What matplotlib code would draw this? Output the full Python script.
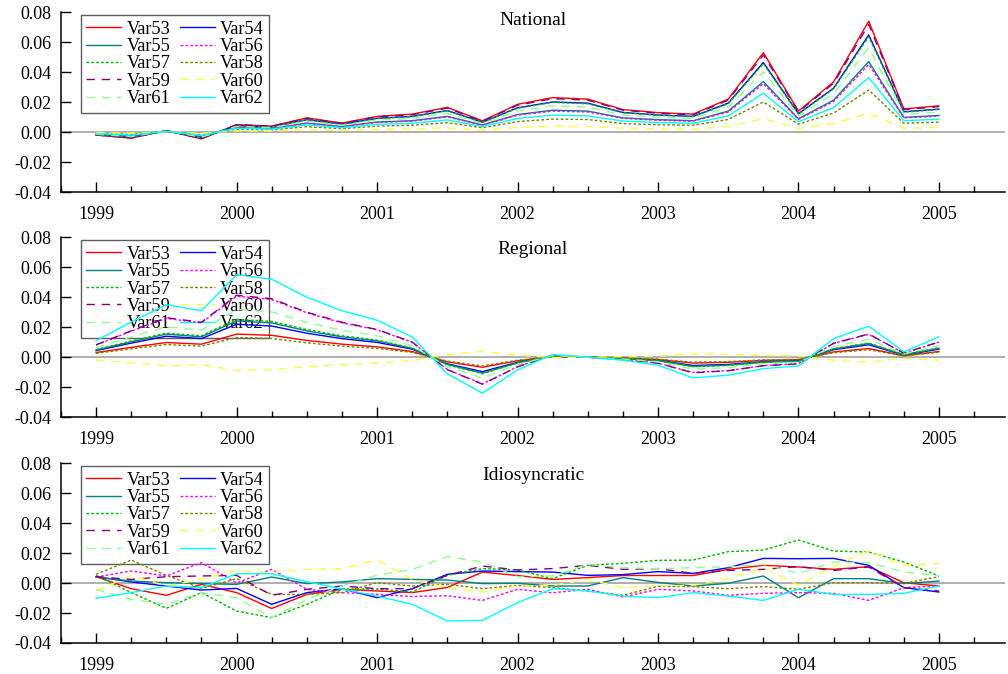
import numpy as np
import matplotlib
matplotlib.use('Agg')
import matplotlib.pyplot as plt
from matplotlib.ticker import MultipleLocator, FormatStrFormatter

plt.rcParams['font.family'] = ['Liberation Serif', 'DejaVu Serif']
plt.rcParams['axes.unicode_minus'] = False

# quarterly dates 1999Q1 .. 2005Q1
quarters = np.arange(1999, 2005.01, 0.25)
names = ['Var53', 'Var54', 'Var55', 'Var56', 'Var57', 'Var58', 'Var59', 'Var60', 'Var61', 'Var62']

# ---- National
nat53 = [-0.002, -0.004, 0.001, -0.0045, 0.005, 0.004, 0.0095, 0.006, 0.0105, 0.012, 0.0165, 0.0075, 0.0185,
         0.023, 0.022, 0.015, 0.013, 0.012, 0.022, 0.053, 0.014, 0.0335, 0.074, 0.0155, 0.0175]
nat54 = [-0.0018, -0.0035, 0.0009, -0.0039, 0.0044, 0.0035, 0.0083, 0.0053, 0.0092, 0.0105, 0.0144, 0.0066, 0.0162,
         0.0201, 0.0193, 0.0131, 0.0114, 0.0105, 0.0193, 0.0464, 0.0123, 0.0293, 0.0648, 0.0136, 0.0153]
nat55 = [-0.0013, -0.0025, 0.0006, -0.0029, 0.0032, 0.0025, 0.006, 0.0038, 0.0067, 0.0076, 0.0105, 0.0048, 0.0117,
         0.0146, 0.014, 0.0095, 0.0083, 0.0076, 0.014, 0.0337, 0.0089, 0.0213, 0.047, 0.0098, 0.0111]
nat56 = [-0.0012, -0.0024, 0.0006, -0.0027, 0.0031, 0.0024, 0.0058, 0.0037, 0.0064, 0.0073, 0.0101, 0.0046, 0.0113,
         0.014, 0.0134, 0.0092, 0.0079, 0.0073, 0.0134, 0.0323, 0.0085, 0.0204, 0.0451, 0.0095, 0.0107]
nat57 = [-0.0017, -0.0034, 0.0009, -0.0039, 0.0043, 0.0034, 0.0082, 0.0052, 0.009, 0.0103, 0.0142, 0.0065, 0.0159,
         0.0198, 0.0189, 0.0129, 0.0112, 0.0103, 0.0189, 0.0456, 0.012, 0.0288, 0.0636, 0.0133, 0.0151]
nat58 = [-0.0008, -0.0015, 0.0004, -0.0017, 0.0019, 0.0015, 0.0036, 0.0023, 0.004, 0.0046, 0.0063, 0.0029, 0.007,
         0.0087, 0.0084, 0.0057, 0.0049, 0.0046, 0.0084, 0.0201, 0.0053, 0.0127, 0.0281, 0.0059, 0.0067]
nat59 = [-0.0019, -0.0039, 0.001, -0.0044, 0.0049, 0.0039, 0.0092, 0.0058, 0.0102, 0.0116, 0.016, 0.0073, 0.0179,
         0.0223, 0.0213, 0.0146, 0.0126, 0.0116, 0.0213, 0.0514, 0.0136, 0.0325, 0.0718, 0.015, 0.017]
nat60 = [-0.0003, -0.0007, 0.0002, -0.0008, 0.0009, 0.0007, 0.0016, 0.001, 0.0018, 0.002, 0.0028, 0.0013, 0.0031,
         0.0039, 0.0037, 0.0026, 0.0022, 0.002, 0.0037, 0.009, 0.0024, 0.0057, 0.0126, 0.0026, 0.003]
nat61 = [-0.0015, -0.003, 0.0008, -0.0034, 0.0038, 0.003, 0.0072, 0.0046, 0.008, 0.0091, 0.0125, 0.0057, 0.0141,
         0.0175, 0.0167, 0.0114, 0.0099, 0.0091, 0.0167, 0.0403, 0.0106, 0.0255, 0.0562, 0.0118, 0.0133]
nat62 = [-0.001, -0.002, 0.0005, -0.0022, 0.0025, 0.002, 0.0047, 0.0029, 0.0051, 0.0059, 0.0081, 0.0037, 0.0091,
         0.0113, 0.0108, 0.0074, 0.0064, 0.0059, 0.0108, 0.026, 0.0069, 0.0164, 0.0363, 0.0076, 0.0086]

# ---- Regional
reg53 = [0.0031, 0.0066, 0.0098, 0.0087, 0.0154, 0.0146, 0.0112, 0.0087, 0.0069, 0.0038, -0.0031, -0.0067, -0.0024,
         0.0005, 0.0, -0.0006, -0.0015, -0.0039, -0.0034, -0.0021, -0.0016, 0.0035, 0.0058, 0.001, 0.0038]
reg54 = [0.0044, 0.0094, 0.014, 0.0124, 0.022, 0.0208, 0.016, 0.0124, 0.0099, 0.0054, -0.0044, -0.0096, -0.0034,
         0.0007, 0.0, -0.0008, -0.0021, -0.0055, -0.0048, -0.003, -0.0023, 0.005, 0.0083, 0.0014, 0.0054]
reg55 = [0.0048, 0.0103, 0.0154, 0.0136, 0.0242, 0.0229, 0.0176, 0.0136, 0.0109, 0.0059, -0.0048, -0.0106, -0.0037,
         0.0008, 0.0, -0.0009, -0.0023, -0.0061, -0.0053, -0.0033, -0.0026, 0.0055, 0.0091, 0.0016, 0.006]
reg56 = [0.0081, 0.0174, 0.0259, 0.0229, 0.0407, 0.0385, 0.0296, 0.0229, 0.0183, 0.01, -0.0081, -0.0178, -0.0063,
         0.0013, 0.0, -0.0015, -0.0039, -0.0102, -0.0089, -0.0056, -0.0043, 0.0092, 0.0153, 0.0027, 0.0101]
reg57 = [0.0051, 0.0108, 0.0161, 0.0143, 0.0253, 0.0239, 0.0184, 0.0143, 0.0114, 0.0062, -0.0051, -0.011, -0.0039,
         0.0008, 0.0, -0.0009, -0.0024, -0.0063, -0.0055, -0.0035, -0.0027, 0.0057, 0.0095, 0.0017, 0.0063]
reg58 = [0.0026, 0.0056, 0.0084, 0.0074, 0.0132, 0.0125, 0.0096, 0.0074, 0.0059, 0.0032, -0.0026, -0.0058, -0.002,
         0.0004, 0.0, -0.0005, -0.0013, -0.0033, -0.0029, -0.0018, -0.0014, 0.003, 0.005, 0.0009, 0.0033]
reg59 = [0.0083, 0.0176, 0.0263, 0.0233, 0.0413, 0.039, 0.030, 0.0233, 0.0185, 0.0101, -0.0083, -0.018, -0.0064,
         0.0014, 0.0, -0.0015, -0.004, -0.0104, -0.009, -0.0057, -0.0044, 0.0093, 0.0155, 0.0027, 0.0102]
reg60 = [-0.0018, -0.0038, -0.0056, -0.005, -0.0088, -0.0083, -0.0064, -0.005, -0.004, -0.0022, 0.0018, 0.0038, 0.0014,
         -0.0003, 0.0, 0.0003, 0.0008, 0.0022, 0.0019, 0.0012, 0.0009, -0.002, -0.0033, -0.0006, -0.0022]
reg61 = [0.0064, 0.0136, 0.0203, 0.018, 0.0319, 0.0302, 0.0232, 0.018, 0.0143, 0.0078, -0.0064, -0.0139, -0.0049,
         0.001, 0.0, -0.0012, -0.0031, -0.008, -0.007, -0.0044, -0.0034, 0.0072, 0.012, 0.0021, 0.0079]
reg62 = [0.011, 0.0235, 0.035, 0.031, 0.055, 0.052, 0.040, 0.031, 0.0247, 0.0135, -0.011, -0.024, -0.0085,
         0.0018, 0.0, -0.002, -0.0053, -0.0138, -0.012, -0.0076, -0.0058, 0.0124, 0.0207, 0.0036, 0.0136]

# ---- Idiosyncratic
idi53 = [0.0042, -0.0038, -0.0082, -0.0009, -0.0064, -0.017, -0.0076, -0.0042, -0.0053, -0.0064, -0.003, 0.0073, 0.005,
         0.0024, 0.0036, 0.005, 0.005, 0.005, 0.0091, 0.0118, 0.0107, 0.0091, 0.0109, 0.0002, -0.002]
idi54 = [0.0042, 0.0007, -0.002, -0.0047, -0.0036, -0.0142, -0.0064, -0.0038, -0.0098, -0.0038, 0.0058, 0.008, 0.0076,
         0.0073, 0.0051, 0.0056, 0.0076, 0.0064, 0.0102, 0.0164, 0.0162, 0.0164, 0.0118, -0.0031, -0.006]
idi55 = [0.004, 0.0013, 0.0002, -0.0004, -0.0009, 0.004, -0.0004, 0.0007, 0.0029, 0.0024, 0.002, -0.0004, -0.0002,
         -0.002, -0.002, 0.0036, 0.0004, -0.002, -0.0002, 0.0047, -0.0098, 0.0029, 0.0029, -0.0004, 0.0013]
idi56 = [0.004, 0.008, 0.0047, 0.0136, 0.0, 0.0091, -0.0042, -0.0064, -0.0076, -0.009, -0.0085, -0.0116, -0.0042,
         -0.0065, -0.0042, -0.0093, -0.0042, -0.0053, -0.0082, -0.0069, -0.0064, -0.0069, -0.0116, -0.0031, -0.002]
idi57 = [0.0051, -0.0064, -0.0169, -0.0064, -0.0187, -0.0231, -0.0142, -0.004, -0.004, -0.006, 0.0051, 0.0096, 0.0087,
         0.0029, 0.0118, 0.0131, 0.0151, 0.0153, 0.0209, 0.022, 0.0287, 0.0213, 0.0207, 0.014, 0.0047]
idi58 = [0.0058, 0.0153, 0.0051, -0.0036, 0.0029, -0.0076, -0.0076, -0.0064, 0.0002, -0.002, -0.0009, -0.0038, -0.0016,
         -0.0031, -0.0053, -0.0082, -0.0022, -0.0024, -0.0038, -0.0024, -0.0042, 0.0002, 0.0002, -0.0002, 0.0042]
idi59 = [0.0042, 0.0024, 0.0042, 0.0047, 0.0051, -0.0082, -0.0042, -0.002, -0.0038, -0.0038, 0.0051, 0.0113, 0.0087,
         0.0096, 0.0118, 0.0091, 0.0096, 0.0064, 0.0084, 0.0091, 0.0109, 0.0084, 0.0107, -0.0031, -0.0053]
idi60 = [-0.0053, 0.0051, -0.002, 0.0024, 0.0084, 0.0069, 0.0091, 0.0096, 0.0155, 0.0024, -0.0031, -0.006, -0.002,
         -0.0016, 0.0024, -0.0031, -0.0018, -0.0016, 0.0029, 0.0102, -0.0016, 0.0113, 0.0213, 0.0118, 0.0131]
idi61 = [-0.0042, -0.011, -0.0142, -0.0064, -0.0098, -0.023, -0.011, -0.002, 0.0052, 0.0091, 0.0176, 0.014, 0.0042,
         0.0047, 0.0124, 0.0102, 0.0095, 0.0102, 0.0109, 0.0124, 0.0064, 0.014, 0.0136, 0.0073, 0.005]
idi62 = [-0.0102, -0.0064, -0.002, -0.0031, 0.0062, 0.0062, 0.0009, -0.004, -0.0087, -0.0142, -0.0253, -0.0249, -0.0131,
         -0.0038, -0.0053, -0.0087, -0.0098, -0.0064, -0.0087, -0.0116, -0.0042, -0.0076, -0.0076, -0.0069, -0.002]

panels = [('National', [nat53, nat54, nat55, nat56, nat57, nat58, nat59, nat60, nat61, nat62]),
          ('Regional', [reg53, reg54, reg55, reg56, reg57, reg58, reg59, reg60, reg61, reg62]),
          ('Idiosyncratic', [idi53, idi54, idi55, idi56, idi57, idi58, idi59, idi60, idi61, idi62])]

dot = (0, (2, 1.5))
dash = (0, (6, 5))
colors = ['#ff0000', '#0000ff', '#008080', '#ff00ff', '#00b800', '#808000', '#800080', '#ffff40', '#90ff90', '#00ffff']
styles = ['-', '-', '-', dot, dot, dot, dash, dash, dash, '-']

fig = plt.figure(figsize=(10.08, 6.74), dpi=100, facecolor='white')
boxes = [0.715, 0.381, 0.046]      # axes bottoms
title_y = [0.955, 0.933, 0.928]
for (title, series), bot, ty in zip(panels, boxes, title_y):
    ax = fig.add_axes([0.0605, bot, 0.9365, 0.267])
    ax.axhline(0, color='#a8a8a8', lw=1.3, zorder=1)
    lines = []
    for name, vals, c, s in zip(names, series, colors, styles):
        ln, = ax.plot(quarters, vals, color=c, ls=s, lw=1.0, label=name, zorder=3)
        lines.append(ln)
    ax.set_xlim(1998.75, 2005.47)
    ax.set_ylim(-0.04, 0.08)
    ax.xaxis.set_major_locator(MultipleLocator(1))
    ax.xaxis.set_minor_locator(MultipleLocator(0.25))
    ax.xaxis.set_major_formatter(FormatStrFormatter('%d'))
    ax.yaxis.set_major_locator(MultipleLocator(0.02))
    ax.yaxis.set_major_formatter(FormatStrFormatter('%.2f'))
    ax.tick_params(axis='both', which='major', direction='in', length=7, width=1, labelsize=13)
    ax.tick_params(axis='x', which='major', pad=10)
    ax.tick_params(axis='y', which='major', pad=7)
    ax.tick_params(axis='x', which='minor', direction='in', length=4, width=1)
    for sp in ['top', 'right']:
        ax.spines[sp].set_visible(False)
    for sp in ['left', 'bottom']:
        ax.spines[sp].set_linewidth(1.1)
    ax.text(0.5, ty, title, transform=ax.transAxes, ha='center', va='center', fontsize=14)
    order = [0, 2, 4, 6, 8, 1, 3, 5, 7, 9]   # row-wise order in 2 columns
    leg = ax.legend([lines[k] for k in order], [names[k] for k in order], ncol=2,
                    loc='upper left', bbox_to_anchor=(0.021, 0.983), borderaxespad=0,
                    fontsize=13.2, frameon=True, fancybox=False,
                    edgecolor='#333333', handlelength=1.9, labelspacing=0.02,
                    columnspacing=0.5, handletextpad=0.3, borderpad=0.3)
    leg.get_frame().set_facecolor('none')
    leg.get_frame().set_linewidth(1.0)
    leg.set_zorder(2)

fig.savefig('out.png', dpi=100)
